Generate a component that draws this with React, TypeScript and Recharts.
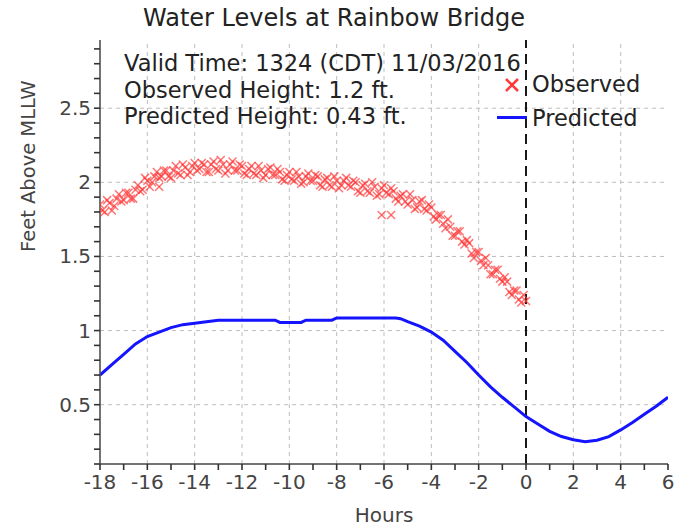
import {
  ComposedChart,
  Line,
  Scatter,
  XAxis,
  YAxis,
  ReferenceLine,
} from "recharts";

// Hours relative to valid time, observed water level (ft)
const obsHours = [
  -18.0, -17.8, -17.6, -17.4, -17.2, -17.0, -16.8, -16.6, -16.4, -16.2,
  -16.0, -15.8, -15.6, -15.4, -15.2, -15.0, -14.8, -14.6, -14.4, -14.2,
  -14.0, -13.8, -13.6, -13.4, -13.2, -13.0, -12.8, -12.6, -12.4, -12.2,
  -12.0, -11.8, -11.6, -11.4, -11.2, -11.0, -10.8, -10.6, -10.4, -10.2,
  -10.0, -9.8, -9.6, -9.4, -9.2, -9.0, -8.8, -8.6, -8.4, -8.2,
  -8.0, -7.8, -7.6, -7.4, -7.2, -7.0, -6.8, -6.6, -6.4, -6.2,
  -6.0, -5.8, -5.6, -5.4, -5.2, -5.0, -4.8, -4.6, -4.4, -4.2,
  -4.0, -3.8, -3.6, -3.4, -3.2, -3.0, -2.8, -2.6, -2.4, -2.2,
  -2.0, -1.8, -1.6, -1.4, -1.2, -1.0, -0.8, -0.6, -0.4, -0.2,
  0.0, -6.1, -5.7, -15.5,
  -17.9, -17.7, -17.5, -17.3, -17.1, -16.9, -16.7, -16.5, -16.3, -16.1,
  -15.9, -15.7, -15.5, -15.3, -15.1, -14.9, -14.7, -14.5, -14.3, -14.1,
  -13.9, -13.7, -13.5, -13.3, -13.1, -12.9, -12.7, -12.5, -12.3, -12.1,
  -11.9, -11.7, -11.5, -11.3, -11.1, -10.9, -10.7, -10.5, -10.3, -10.1,
  -9.9, -9.7, -9.5, -9.3, -9.1, -8.9, -8.7, -8.5, -8.3, -8.1,
  -7.9, -7.7, -7.5, -7.3, -7.1, -6.9, -6.7, -6.5, -6.3, -6.1,
  -5.9, -5.7, -5.5, -5.3, -5.1, -4.9, -4.7, -4.5, -4.3, -4.1,
  -3.9, -3.7, -3.5, -3.3, -3.1, -2.9, -2.7, -2.5, -2.3, -2.1,
  -1.9, -1.7, -1.5, -1.3, -1.1, -0.9, -0.7, -0.5, -0.3, -0.1,
];
const obsFeet = [
  1.85, 1.80, 1.86, 1.84, 1.92, 1.88, 1.93, 1.89, 1.98, 1.95,
  2.01, 2.00, 2.07, 2.04, 2.08, 2.03, 2.11, 2.05, 2.10, 2.07,
  2.13, 2.09, 2.12, 2.07, 2.14, 2.08, 2.12, 2.08, 2.14, 2.08,
  2.11, 2.05, 2.11, 2.05, 2.08, 2.05, 2.10, 2.05, 2.07, 2.01,
  2.07, 2.01, 2.04, 2.00, 2.06, 2.01, 2.04, 1.97, 2.03, 1.97,
  2.01, 1.98, 2.03, 1.97, 2.00, 1.93, 1.99, 1.93, 1.97, 1.92,
  1.98, 1.92, 1.94, 1.87, 1.92, 1.85, 1.88, 1.83, 1.88, 1.81,
  1.83, 1.75, 1.78, 1.69, 1.70, 1.64, 1.67, 1.58, 1.59, 1.49,
  1.53, 1.44, 1.44, 1.38, 1.41, 1.33, 1.33, 1.24, 1.27, 1.19,
  1.20, 1.78, 1.78, 1.97,
  1.81, 1.88, 1.81, 1.89, 1.87, 1.93, 1.89, 1.95, 1.94, 2.03,
  1.97, 2.04, 2.03, 2.08, 2.04, 2.08, 2.06, 2.12, 2.05, 2.11,
  2.08, 2.13, 2.07, 2.12, 2.09, 2.15, 2.06, 2.12, 2.08, 2.12,
  2.06, 2.09, 2.06, 2.11, 2.03, 2.09, 2.05, 2.09, 2.02, 2.05,
  2.02, 2.07, 1.99, 2.04, 2.01, 2.05, 1.98, 2.02, 1.98, 2.04,
  1.96, 2.01, 1.98, 2.01, 1.94, 1.98, 1.94, 2.00, 1.91, 1.96,
  1.93, 1.96, 1.89, 1.91, 1.87, 1.92, 1.82, 1.87, 1.82, 1.85,
  1.77, 1.78, 1.72, 1.75, 1.64, 1.67, 1.60, 1.61, 1.52, 1.53,
  1.47, 1.49, 1.38, 1.41, 1.35, 1.36, 1.26, 1.27, 1.21, 1.24,
];

// Predicted tide curve (ft)
const predHours = [
  -18, -17.5, -17, -16.5, -16, -15.5, -15, -14.5, -14, -13.5,
  -13, -12.5, -12, -11.5, -11, -10.6, -10.4, -10, -9.5, -9.3,
  -9, -8.5, -8.2, -8, -7.5, -7, -6.5, -6, -5.5, -5.3,
  -5, -4.5, -4, -3.5, -3, -2.5, -2, -1.5, -1, -0.5,
  0, 0.5, 1, 1.5, 2, 2.5, 3, 3.5, 4, 4.5,
  5, 5.5, 6,
];
const predFeet = [
  0.70, 0.77, 0.84, 0.91, 0.96, 0.99, 1.02, 1.04, 1.05, 1.06,
  1.07, 1.07, 1.07, 1.07, 1.07, 1.07, 1.055, 1.055, 1.055, 1.07,
  1.07, 1.07, 1.07, 1.085, 1.085, 1.085, 1.085, 1.085, 1.085, 1.08,
  1.06, 1.03, 0.99, 0.935, 0.86, 0.785, 0.70, 0.62, 0.55, 0.485,
  0.42, 0.37, 0.32, 0.285, 0.264, 0.25, 0.26, 0.285, 0.33, 0.38,
  0.435, 0.49, 0.55,
];

const xTicks = [
  -18, -17, -16, -15, -14, -13, -12, -11, -10, -9, -8, -7, -6, -5, -4, -3,
  -2, -1, 0, 1, 2, 3, 4, 5, 6,
];
const xGrid = [-16, -14, -12, -10, -8, -6, -4, -2, 2, 4];
const yTicks = [
  0.1, 0.2, 0.3, 0.4, 0.5, 0.6, 0.7, 0.8, 0.9, 1.0, 1.1, 1.2, 1.3, 1.4, 1.5,
  1.6, 1.7, 1.8, 1.9, 2.0, 2.1, 2.2, 2.3, 2.4, 2.5, 2.6, 2.7, 2.8, 2.9,
];
const yGrid = [0.5, 1, 1.5, 2, 2.5];

const infoLines = [
  "Valid Time: 1324 (CDT) 11/03/2016",
  "Observed Height: 1.2 ft.",
  "Predicted Height: 0.43 ft.",
];

const observed = obsHours.map((h, i) => ({ h, v: obsFeet[i] }));
const predicted = predHours.map((h, i) => ({ h, v: predFeet[i] }));

const FONT = "'DejaVu Sans', sans-serif";
const AXIS = "#444";
const GRID = "#bdbdbd";
const RED = "#ff3a3a";
const BLUE = "#1414ff";

// the tick position handed in is tickSize(5) + tickMargin(2) off the axis line
const XTick = ({ x, y, payload }: any) => (
  <g>
    <path d={`M${x},${y - 7}L${x},${y - 1}`} stroke="#333" strokeWidth={1.6} fill="none" />
    {payload.value % 2 === 0 && (
      <text x={x} y={y} dy={18} textAnchor="middle" fontSize={20} fill="#444" fontFamily={FONT}>
        {payload.value}
      </text>
    )}
  </g>
);

const YTick = ({ x, y, payload }: any) => {
  const v = payload.value;
  const major = Math.abs(v * 2 - Math.round(v * 2)) < 1e-6;
  return (
    <g>
      <path d={`M${x + 1},${y}L${x + 7},${y}`} stroke="#333" strokeWidth={1.6} fill="none" />
      {major && (
        <text x={x} y={y} dx={-2} dy={7} textAnchor="end" fontSize={20} fill="#444" fontFamily={FONT}>
          {String(Math.round(v * 10) / 10)}
        </text>
      )}
    </g>
  );
};

const Cross = ({ cx, cy }: any) => (
  <g stroke={RED} strokeWidth={1.5} strokeOpacity={0.7}>
    <line x1={cx - 4} y1={cy - 4} x2={cx + 4} y2={cy + 4} />
    <line x1={cx - 4} y1={cy + 4} x2={cx + 4} y2={cy - 4} />
  </g>
);

export default function App() {
  return (
    <div
      style={{
        position: "absolute",
        left: 0,
        top: 0,
        width: 683,
        height: 530,
        background: "#fff",
        fontFamily: FONT,
      }}
    >
      <ComposedChart
        width={683}
        height={530}
        margin={{ top: 40, right: 15, left: 0, bottom: 0 }}
      >
        <XAxis
          dataKey="h"
          type="number"
          domain={[-18, 6]}
          ticks={xTicks}
          interval={0}
          allowDataOverflow
          height={66}
          tickSize={5}
          tickMargin={2}
          tickLine={false}
          axisLine={{ stroke: AXIS, strokeWidth: 1.5 }}
          tick={XTick}
          label={{ value: "Hours", position: "insideBottom", offset: 8, fontSize: 20, fill: "#444", fontFamily: FONT }}
        />
        <XAxis xAxisId="top" orientation="top" type="number" domain={[-18, 6]} height={0} tick={false} tickLine={false} axisLine={{ stroke: "#888" }} />
        <YAxis
          dataKey="v"
          type="number"
          domain={[0.1, 2.96]}
          ticks={yTicks}
          interval={0}
          allowDataOverflow
          width={100}
          tickSize={5}
          tickMargin={2}
          tickLine={false}
          axisLine={{ stroke: AXIS, strokeWidth: 1.5 }}
          tick={YTick}
          label={{ value: "Feet Above MLLW", angle: -90, position: "insideLeft", offset: 28, fontSize: 19.5, fill: "#444", fontFamily: FONT }}
        />
        <YAxis yAxisId="right" orientation="right" type="number" domain={[0.1, 2.96]} width={0} tick={false} tickLine={false} axisLine={{ stroke: "#888" }} />
        {xGrid.map((h) => (
          <ReferenceLine key={"gx" + h} x={h} stroke={GRID} strokeDasharray="4 4" />
        ))}
        {yGrid.map((v) => (
          <ReferenceLine key={"gy" + v} y={v} stroke={GRID} strokeDasharray="4 4" />
        ))}
        <ReferenceLine x={0} stroke="#000" strokeWidth={1.8} strokeDasharray="10 6" />
        <Line
          data={predicted}
          dataKey="v"
          type="linear"
          stroke={BLUE}
          strokeWidth={3}
          dot={false}
          isAnimationActive={false}
        />
        <Scatter
          data={observed}
          dataKey="v"
          shape={Cross}
          isAnimationActive={false}
        />
      </ComposedChart>

      <div
        style={{
          position: "absolute",
          left: 334,
          top: 5,
          transform: "translateX(-50%)",
          fontSize: 24,
          lineHeight: "26px",
          color: "#222",
          whiteSpace: "nowrap",
        }}
      >
        Water Levels at Rainbow Bridge
      </div>

      <div
        style={{
          position: "absolute",
          left: 124,
          top: 50,
          fontSize: 22.5,
          lineHeight: "26.5px",
          color: "#222",
          whiteSpace: "nowrap",
        }}
      >
        {infoLines.map((t) => (
          <div key={t}>{t}</div>
        ))}
      </div>

      <svg style={{ position: "absolute", left: 504, top: 77 }} width={16} height={16}>
        <g stroke={RED} strokeWidth={2.5}>
          <line x1={2} y1={2} x2={14} y2={14} />
          <line x1={2} y1={14} x2={14} y2={2} />
        </g>
      </svg>
      <div style={{ position: "absolute", left: 532, top: 70, fontSize: 22.5, lineHeight: "28px", color: "#222" }}>
        Observed
      </div>
      <div style={{ position: "absolute", left: 497, top: 116, width: 30, height: 3, background: BLUE }} />
      <div style={{ position: "absolute", left: 532, top: 104, fontSize: 22.5, lineHeight: "28px", color: "#222" }}>
        Predicted
      </div>
    </div>
  );
}
